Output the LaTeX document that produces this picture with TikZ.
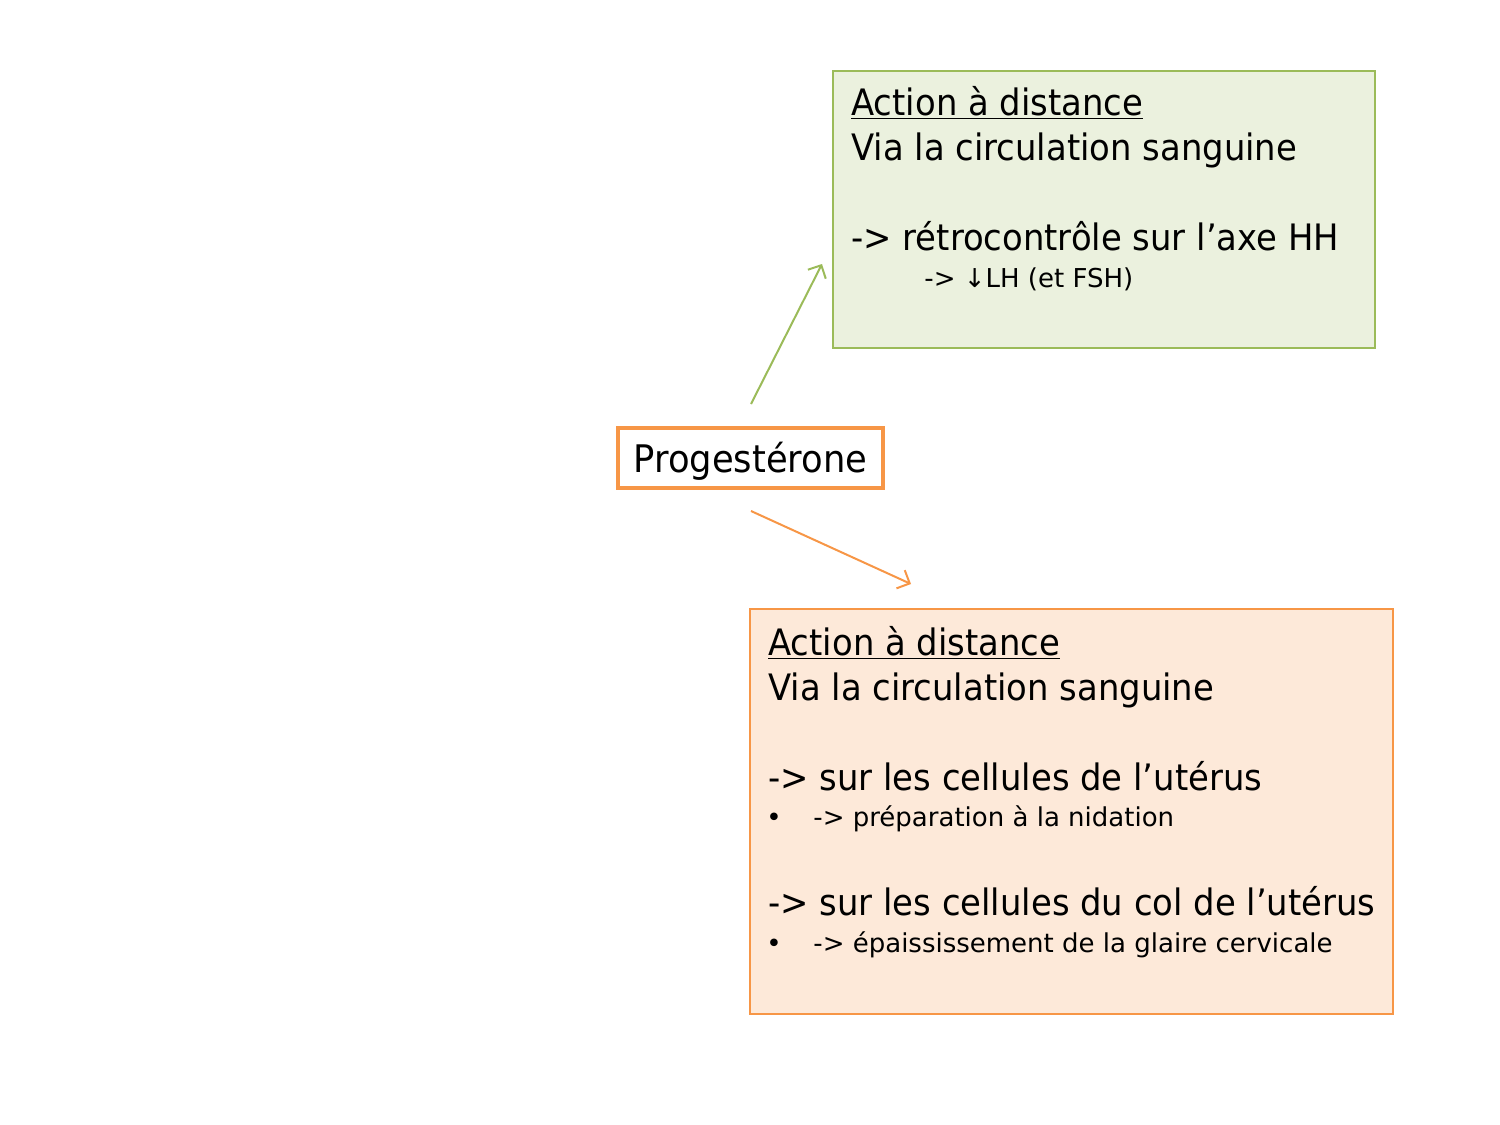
\documentclass[tikz,border=0pt]{standalone}
\usepackage{fontspec}
\setmainfont{DejaVu Sans}
\newfontfamily\etroit[FakeStretch=0.93]{DejaVu Sans}
\usepackage{tikz}
\usetikzlibrary{arrows.meta}
\definecolor{vertbord}{HTML}{9BBB59}
\definecolor{vertfond}{HTML}{EBF1DE}
\definecolor{orangebord}{HTML}{F79646}
\definecolor{orangefond}{HTML}{FDE9D9}
\tikzstyle{cadrevert} = [rectangle, draw=vertbord, fill=vertfond, line width=0.75pt, minimum width=271pt, minimum height=138.5pt]
\tikzstyle{cadreorange} = [rectangle, draw=orangebord, fill=orangefond, line width=0.75pt, minimum width=321.5pt, minimum height=202.5pt]
\tikzstyle{hormone} = [rectangle, draw=orangebord, fill=white, line width=2pt, minimum width=132.5pt, minimum height=30pt, text depth=1pt, font=\etroit\fontsize{19}{22}\selectfont]
\tikzstyle{grand} = [anchor=base west, inner sep=0pt, font=\etroit\fontsize{18.2}{22}\selectfont]
\tikzstyle{petit} = [anchor=base west, inner sep=0pt, font=\fontsize{13}{16}\selectfont]
\tikzstyle{fleche} = [line width=1pt,-{Straight Barb[length=5pt,width=10pt]}]

\begin{document}
\begin{tikzpicture}[x=0.5pt, y=-0.5pt]
	\useasboundingbox (0,0) rectangle (1500,1125);

	\node (prog) [hormone] at (750.5,458) {Progestérone};

	\node (haut) [cadrevert] at (1104,209.5) {};
	\node (haut1) [grand] at (851,115) {\underline{Action à distance}};
	\node (haut2) [grand] at (851,160) {Via la circulation sanguine};
	\node (haut3) [grand] at (851,250) {-> rétrocontrôle sur l’axe HH};
	\node (haut4) [petit] at (924,287) {-> ↓LH (et FSH)};

	\node (bas) [cadreorange] at (1071.5,811.5) {};
	\node (bas1) [grand] at (768,655) {\underline{Action à distance}};
	\node (bas2) [grand] at (768,700) {Via la circulation sanguine};
	\node (bas3) [grand] at (768,790) {-> sur les cellules de l’utérus};
	\node (puce1) [petit] at (766,826) {•};
	\node (bas4) [petit] at (813,826) {-> préparation à la nidation};
	\node (bas5) [grand] at (768,915) {-> sur les cellules du col de l’utérus};
	\node (puce2) [petit] at (766,952) {•};
	\node (bas6) [petit] at (813,952) {-> épaississement de la glaire cervicale};

	\coordinate (departv) at (751,404);
	\coordinate (arrivev) at (822,264);
	\coordinate (departo) at (751,511);
	\coordinate (arriveo) at (911,584);

	\draw [fleche, vertbord] (departv) -- (arrivev);
	\draw [fleche, orangebord] (departo) -- (arriveo);

\end{tikzpicture}
\end{document}
